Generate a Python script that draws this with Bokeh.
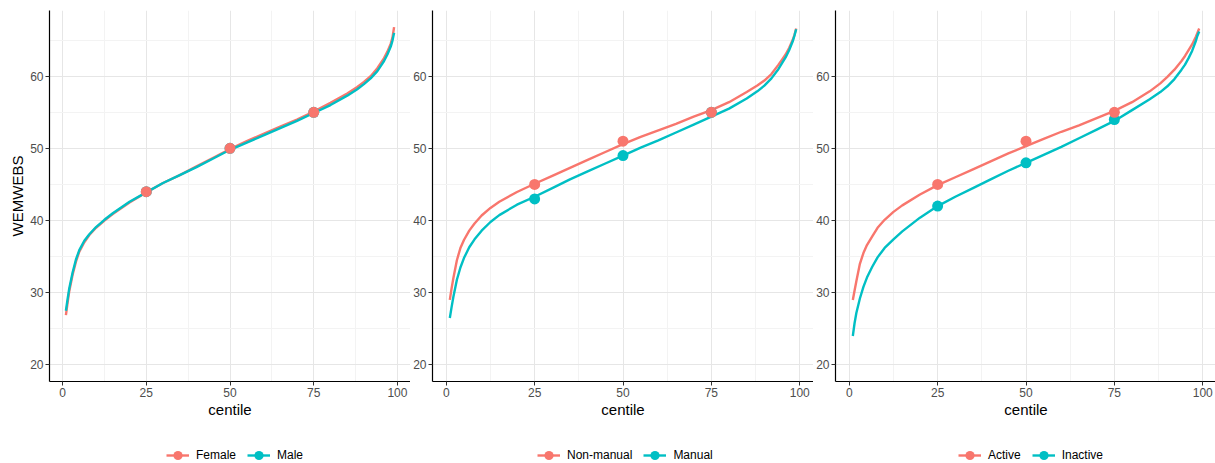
from bokeh.plotting import figure
from bokeh.models import Range1d, FixedTicker, Legend, LegendItem
from bokeh.layouts import row, column
from bokeh.embed import file_html
from bokeh.resources import INLINE

# ---- data ----
centile = [1, 1.5, 2, 3, 4, 5, 6.5, 8, 10, 12.5, 15, 20, 25, 30, 35, 40, 45, 50,
           55, 60, 65, 70, 75, 80, 85, 88, 90, 92, 94, 95, 96, 97, 98, 98.5, 99]

female = [26.9, 28.6, 30.2, 32.5, 34.3, 35.7, 37.0, 38.0, 39.0, 40.0, 40.9, 42.5, 43.9,
          45.2, 46.3, 47.5, 48.7, 49.9, 51.0, 52.0, 53.0, 54.0, 55.1, 56.3, 57.6, 58.5,
          59.2, 60.0, 61.1, 61.8, 62.5, 63.4, 64.5, 65.3, 66.8]
male = [27.5, 29.1, 30.6, 32.8, 34.6, 35.9, 37.2, 38.1, 39.1, 40.1, 41.0, 42.6, 43.9,
        45.2, 46.3, 47.4, 48.6, 49.8, 50.8, 51.8, 52.8, 53.8, 54.9, 56.0, 57.3, 58.2,
        58.9, 59.7, 60.7, 61.4, 62.1, 63.0, 64.1, 64.9, 66.0]

nonmanual = [29.0, 30.6, 32.0, 34.5, 36.2, 37.3, 38.6, 39.6, 40.7, 41.75, 42.6, 43.95, 45.1,
             46.2, 47.3, 48.4, 49.5, 50.6, 51.6, 52.5, 53.4, 54.4, 55.3, 56.4, 57.8, 58.7,
             59.4, 60.3, 61.6, 62.3, 63.0, 63.9, 65.0, 65.7, 66.6]
manual = [26.5, 28.0, 29.4, 31.8, 33.5, 34.8, 36.3, 37.4, 38.6, 39.8, 40.75, 42.2, 43.3,
          44.5, 45.7, 46.8, 47.9, 49.0, 50.1, 51.1, 52.2, 53.3, 54.4, 55.5, 56.9, 57.9,
          58.7, 59.7, 61.0, 61.8, 62.6, 63.6, 64.8, 65.6, 66.5]

active = [29.0, 30.3, 31.6, 34.0, 35.5, 36.6, 37.8, 39.0, 40.1, 41.2, 42.1, 43.6, 44.9,
          46.0, 47.1, 48.2, 49.3, 50.3, 51.3, 52.3, 53.2, 54.2, 55.2, 56.4, 57.9, 59.0,
          59.9, 60.9, 62.1, 62.8, 63.6, 64.4, 65.4, 66.0, 66.6]
inactive = [24.0, 25.8, 27.2, 29.2, 30.8, 32.1, 33.6, 34.9, 36.2, 37.4, 38.5, 40.4, 42.0,
            43.3, 44.5, 45.7, 46.9, 48.0, 49.1, 50.2, 51.4, 52.6, 53.8, 55.3, 56.8, 57.8,
            58.6, 59.6, 60.9, 61.6, 62.5, 63.5, 64.8, 65.6, 66.2]

point_centiles = [25, 50, 75]
female_pts = [44, 50, 55]
male_pts = [44, 50, 55]
nonmanual_pts = [45, 51, 55]
manual_pts = [43, 49, 55]
active_pts = [45, 51, 55]
inactive_pts = [42, 48, 54]

x_ticks = [0, 25, 50, 75, 100]
y_ticks = [20, 30, 40, 50, 60]

PINK = "#F8766D"
TEAL = "#00BFC4"
FONT = "Liberation Sans"


def draw_series(p, y_a, y_b, pts_a, pts_b, visible=True):
    la = p.line(centile, y_a, line_color=PINK, line_width=2.4, visible=visible)
    lb = p.line(centile, y_b, line_color=TEAL, line_width=2.4, visible=visible)
    sb = p.scatter(point_centiles, pts_b, size=11, fill_color=TEAL, line_color=None,
                   visible=visible)
    sa = p.scatter(point_centiles, pts_a, size=11, fill_color=PINK, line_color=None,
                   visible=visible)
    return la, lb, sa, sb


def make_panel(y_a, y_b, pts_a, pts_b, labels, frame_w, border_left, legend_x, ylabel=None):
    p = figure(frame_width=frame_w, frame_height=371, output_backend="svg",
               toolbar_location=None,
               x_range=Range1d(-3.9, 103.9), y_range=Range1d(17.7, 69.1),
               min_border_left=border_left, min_border_right=0,
               min_border_top=10, min_border_bottom=49,
               outline_line_color=None, background_fill_color="white",
               border_fill_color="white")
    p.xaxis.ticker = FixedTicker(ticks=x_ticks, minor_ticks=[12.5, 37.5, 62.5, 87.5])
    p.yaxis.ticker = FixedTicker(ticks=y_ticks, minor_ticks=[25, 35, 45, 55, 65])
    for ax in (p.xaxis, p.yaxis):
        ax.axis_line_color = "black"
        ax.axis_line_width = 1.2
        ax.major_tick_line_color = "#333333"
        ax.major_tick_out = 4
        ax.major_tick_in = 0
        ax.minor_tick_line_color = None
        ax.major_label_text_color = "#4d4d4d"
        ax.major_label_text_font_size = "12px"
        ax.major_label_text_font = FONT
        ax.major_label_standoff = 2
        ax.axis_label_text_font = FONT
        ax.axis_label_text_font_size = "15px"
        ax.axis_label_text_font_style = "normal"
        ax.axis_label_text_color = "black"
        ax.axis_label_standoff = 1
    p.xaxis.axis_label = "centile"
    if ylabel:
        p.yaxis.axis_label = ylabel
    for g in (p.xgrid, p.ygrid):
        g.grid_line_color = "#e6e6e6"
        g.grid_line_width = 1
        g.minor_grid_line_color = "#f3f3f3"
        g.minor_grid_line_width = 1
    draw_series(p, y_a, y_b, pts_a, pts_b)

    # legend strip below the panel (its frame is aligned with the panel's frame)
    lg = figure(width=border_left + frame_w, height=33, output_backend="svg",
                toolbar_location=None, x_axis_type=None, y_axis_type=None,
                x_range=Range1d(0, 1), y_range=Range1d(0, 1),
                min_border_left=0, min_border_right=0, min_border_top=0,
                min_border_bottom=0, outline_line_color=None,
                background_fill_color="white", border_fill_color="white")
    lg.grid.visible = False
    la, lb, sa, sb = draw_series(lg, y_a, y_b, pts_a, pts_b, visible=False)
    legend = Legend(items=[LegendItem(label=labels[0], renderers=[la, sa]),
                           LegendItem(label=labels[1], renderers=[lb, sb])],
                    orientation="horizontal", location=(legend_x, -4),
                    border_line_color=None, background_fill_alpha=0,
                    inactive_fill_alpha=0,
                    label_text_font=FONT, label_text_font_size="12px",
                    label_text_color="black",
                    glyph_width=23, glyph_height=24, spacing=11,
                    padding=0, margin=0, label_standoff=7)
    lg.add_layout(legend, "center")
    return column(p, lg, spacing=0)


p1 = make_panel(female, male, female_pts, male_pts, ["Female", "Male"], 361, 49, 117, "WEMWEBS")
p2 = make_panel(nonmanual, manual, nonmanual_pts, manual_pts, ["Non-manual", "Manual"], 381, 22, 105)
p3 = make_panel(active, inactive, active_pts, inactive_pts, ["Active", "Inactive"], 381, 20, 123)

layout = row(p1, p2, p3)
open("out.html", "w").write(file_html(layout, INLINE))
